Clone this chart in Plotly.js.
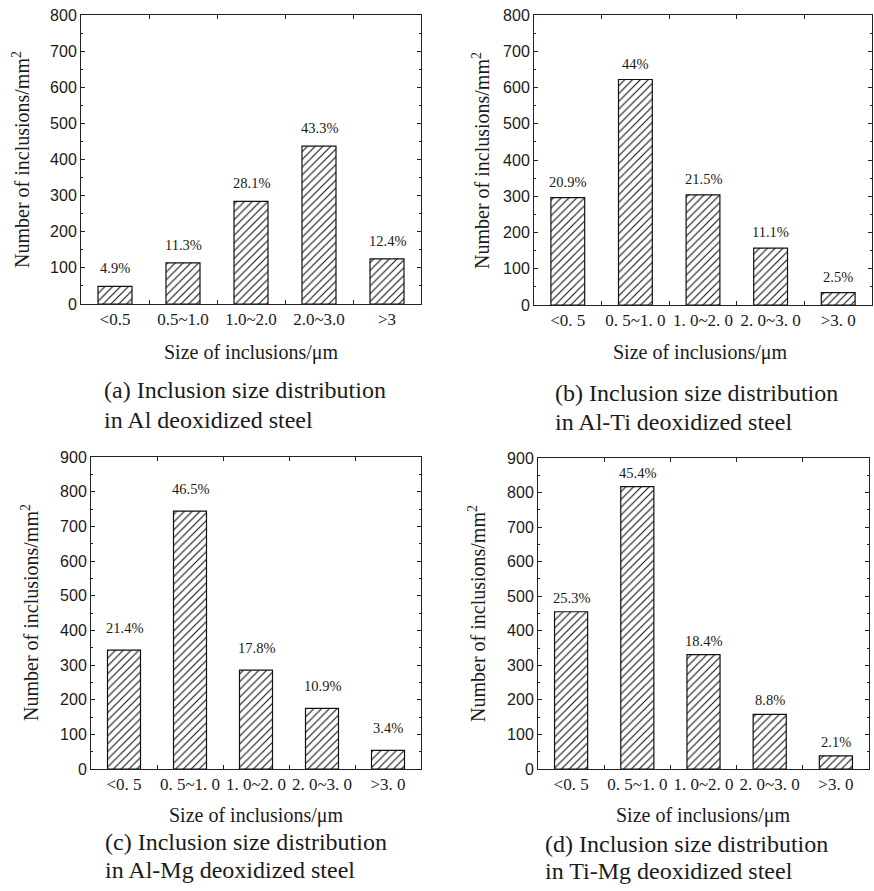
<!DOCTYPE html>
<html>
<head>
<meta charset="utf-8">
<script src="https://cdn.plot.ly/plotly-3.0.1.min.js"></script>
<style>html,body{margin:0;padding:0;background:#fff;}#chart{width:874px;height:891px;}</style>
</head>
<body>
<div id="chart"></div>
<script>
// ---- data ----
const catsA = ['<0.5', '0.5~1.0', '1.0~2.0', '2.0~3.0', '>3'];
const catsB = ['<0. 5', '0. 5~1. 0', '1. 0~2. 0', '2. 0~3. 0', '>3. 0'];

const valsA = [49, 114, 284, 437, 125];
const valsB = [296, 622, 304, 157, 34];
const valsC = [343, 744, 285, 175, 54];
const valsD = [455, 817, 331, 158, 38];

const pctA = ['4.9%', '11.3%', '28.1%', '43.3%', '12.4%'];
const pctB = ['20.9%', '44%', '21.5%', '11.1%', '2.5%'];
const pctC = ['21.4%', '46.5%', '17.8%', '10.9%', '3.4%'];
const pctD = ['25.3%', '45.4%', '18.4%', '8.8%', '2.1%'];

const yTitle = 'Number of inclusions/mm<sup>2</sup>';
const xTitle = 'Size of inclusions/μm';
const captionsL1 = ['(a) Inclusion size distribution', '(b) Inclusion size distribution',
                    '(c) Inclusion size distribution', '(d) Inclusion size distribution'];
const captionsL2 = ['in Al deoxidized steel', 'in Al-Ti deoxidized steel',
                    'in Al-Mg deoxidized steel', 'in Ti-Mg deoxidized steel'];

// ---- layout helpers (pixels -> paper) ----
const W = 874, H = 891;
const px = x => x / W;
const py = y => 1 - y / H;

const serif = 'Liberation Serif, Times New Roman, serif';
const sans = 'Liberation Sans, Arial, sans-serif';
const ink = '#1a1a1a';

const panels = [
  {cats: catsA, vals: valsA, pct: pctA, x0: 81, x1: 421, y0: 15, y1: 304, ymax: 800, lblShift: 18,
   yt: {x: 21, y: 160}, xt: {x: 251, y: 352}, cap: {x: 102, y1: 390, y2: 420}, tickSize: 17},
  {cats: catsB, vals: valsB, pct: pctB, x0: 534, x1: 872, y0: 15, y1: 305, ymax: 800, lblShift: 16,
   yt: {x: 481, y: 160}, xt: {x: 700, y: 352}, cap: {x: 553, y1: 393, y2: 422}, tickSize: 17},
  {cats: catsB, vals: valsC, pct: pctC, x0: 91, x1: 421, y0: 457, y1: 769, ymax: 900, lblShift: 22,
   yt: {x: 30, y: 613}, xt: {x: 256, y: 815}, cap: {x: 103, y1: 842, y2: 870}, tickSize: 17},
  {cats: catsB, vals: valsD, pct: pctD, x0: 538, x1: 869, y0: 458, y1: 769, ymax: 900, lblShift: 14,
   yt: {x: 477, y: 613}, xt: {x: 703, y: 815}, cap: {x: 543, y1: 844, y2: 871}, tickSize: 17}
];

const data = [];
const layout = {
  width: W, height: H,
  margin: {l: 0, r: 0, t: 0, b: 0},
  paper_bgcolor: '#fff', plot_bgcolor: '#fff',
  showlegend: false,
  font: {family: serif, color: ink},
  annotations: [],
  bargap: 0.5
};

panels.forEach((p, i) => {
  const n = i + 1;
  const xa = 'xaxis' + (n === 1 ? '' : n);
  const ya = 'yaxis' + (n === 1 ? '' : n);
  const xr = 'x' + (n === 1 ? '' : n);
  const yr = 'y' + (n === 1 ? '' : n);

  data.push({
    type: 'bar', x: p.cats, y: p.vals, xaxis: xr, yaxis: yr,
    width: 0.5,
    marker: {
      color: '#fff',
      line: {color: '#111', width: 1.2},
      pattern: {shape: '/', fgcolor: '#111', bgcolor: '#fff', size: 5.5, solidity: 0.2}
    },
    hoverinfo: 'skip'
  });

  layout[xa] = {
    domain: [px(p.x0), px(p.x1)],
    anchor: yr,
    type: 'category',
    range: [-0.5, 4.5],
    showline: true, linecolor: '#222', linewidth: 1, mirror: 'ticks',
    ticks: 'inside', ticklen: 4, tickcolor: '#222', tickson: 'boundaries',
    tickangle: 0,
    showgrid: false, zeroline: false,
    tickfont: {family: serif, size: p.tickSize, color: ink},
    fixedrange: true
  };
  layout[ya] = {
    domain: [py(p.y1), py(p.y0)],
    anchor: xr,
    range: [0, p.ymax],
    dtick: 100, tick0: 0,
    showline: true, linecolor: '#222', linewidth: 1, mirror: 'ticks',
    ticks: 'inside', ticklen: 4, tickcolor: '#222',
    minor: {ticks: 'inside', dtick: 50, ticklen: 2, tickcolor: '#222'},
    showgrid: false, zeroline: false,
    tickfont: {family: sans, size: 16, color: ink},
    fixedrange: true
  };

  p.cats.forEach((c, k) => {
    layout.annotations.push({
      xref: xr, yref: yr, x: c, y: p.vals[k], text: p.pct[k],
      showarrow: false, yanchor: 'middle', yshift: p.lblShift,
      font: {family: serif, size: 14.5, color: ink}
    });
  });

  layout.annotations.push({
    xref: 'paper', yref: 'paper', x: px(p.yt.x), y: py(p.yt.y), text: yTitle,
    textangle: -90, showarrow: false, xanchor: 'center', yanchor: 'middle',
    font: {family: serif, size: 20, color: ink}
  });
  layout.annotations.push({
    xref: 'paper', yref: 'paper', x: px(p.xt.x), y: py(p.xt.y), text: xTitle,
    showarrow: false, xanchor: 'center', yanchor: 'middle',
    font: {family: serif, size: 20, color: ink}
  });
  layout.annotations.push({
    xref: 'paper', yref: 'paper', x: px(p.cap.x), y: py(p.cap.y1), text: captionsL1[i],
    showarrow: false, xanchor: 'left', yanchor: 'middle', align: 'left',
    font: {family: serif, size: 24, color: ink}
  });
  layout.annotations.push({
    xref: 'paper', yref: 'paper', x: px(p.cap.x), y: py(p.cap.y2), text: captionsL2[i],
    showarrow: false, xanchor: 'left', yanchor: 'middle', align: 'left',
    font: {family: serif, size: 24, color: ink}
  });
});

Plotly.newPlot('chart', data, layout, {staticPlot: true, displayModeBar: false});
</script>
</body>
</html>
